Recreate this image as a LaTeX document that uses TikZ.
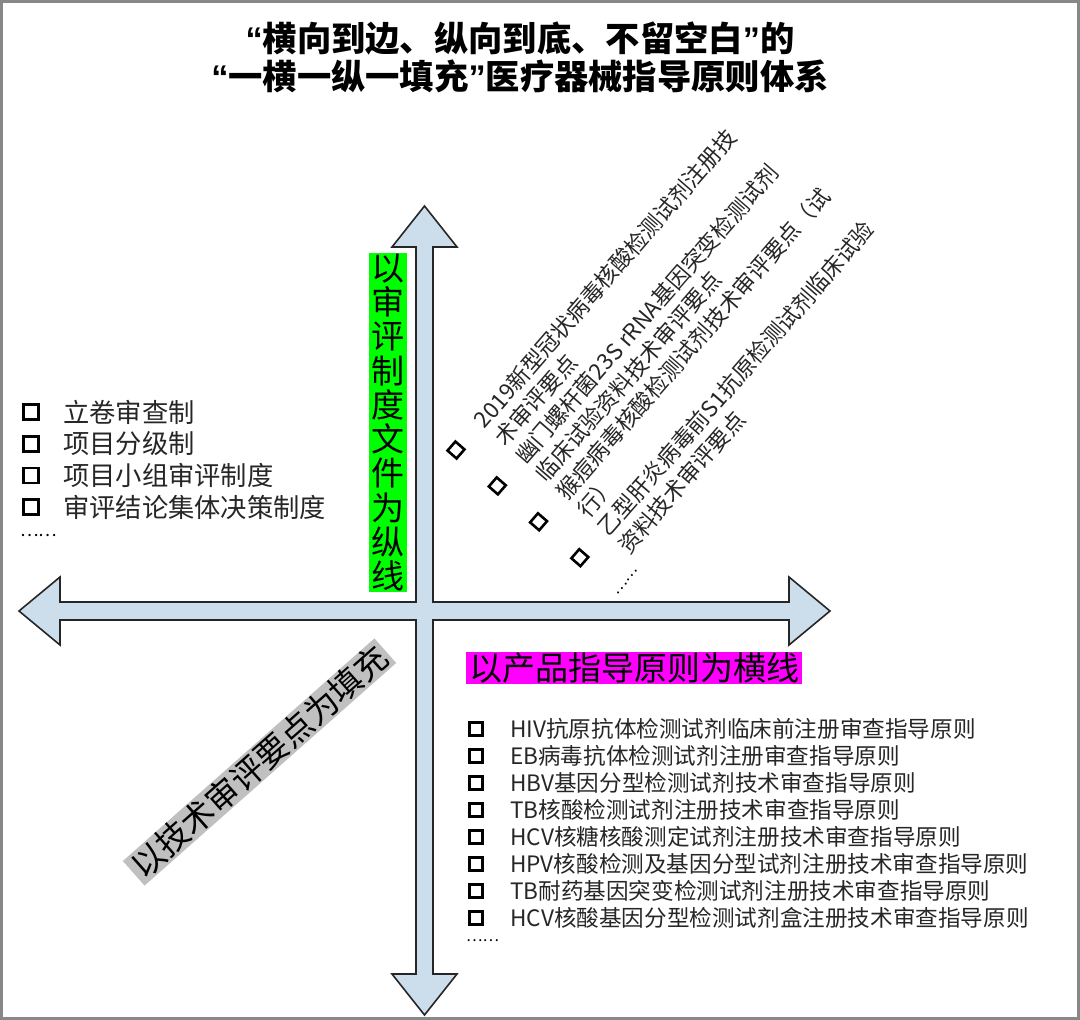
\documentclass[tikz,border=0pt]{standalone}
\usepackage{fontspec}
\usepackage{tikz}
\usetikzlibrary{shapes,backgrounds,positioning}
\newfontfamily\cjk{Noto Sans CJK SC}
\newfontfamily\latin{Liberation Sans}
\newcommand{\opq}{{\latin “}}
\newcommand{\clq}{{\latin ”}}
\definecolor{arrowblue}{RGB}{204,222,236}
\definecolor{framegray}{RGB}{136,136,136}
\definecolor{boxgreen}{RGB}{0,255,0}
\definecolor{boxmagenta}{RGB}{255,0,255}
\definecolor{boxsilver}{RGB}{192,192,192}

\begin{document}
\begin{tikzpicture}[x=1pt,y=-1pt,font=\cjk,
		crossarrow/.style={fill=arrowblue,draw=black!85,line width=1.6pt,line join=miter},
		sqbig/.style={draw,line width=2.8pt,minimum size=15pt,inner sep=0pt},
		sqsmall/.style={draw,line width=2.5pt,minimum size=13pt,inner sep=0pt},
		sqturn/.style={draw,line width=2.6pt,minimum size=12pt,inner sep=0pt},
		txtbig/.style={anchor=west,inner sep=0pt,text=black!85,font=\cjk\fontsize{26.3}{30}\selectfont},
		txtsmall/.style={anchor=west,inner sep=0pt,text=black!85,font=\cjk\fontsize{22.6}{27}\selectfont},
		txtturn/.style={anchor=west,inner sep=0pt,align=left,text=black!85,font=\cjk\fontsize{22.4}{27.4}\selectfont},
		tagbox/.style={inner xsep=3pt,inner ysep=1pt,font=\cjk\fontsize{33}{34.3}\selectfont}]
			\useasboundingbox (0,0) rectangle (1080,1020);
			% draw frame
			\draw[framegray,line width=3pt] (1.5,1.5) rectangle (1078.5,1018.5);
			
			% draw title
			\node[align=center,font=\cjk\bfseries\fontsize{34.3}{38}\selectfont] (title) at (520,57)
			{\opq 横向到边、纵向到底、不留空白\clq 的\\\opq 一横一纵一填充\clq 医疗器械指导原则体系};
			
			% draw cross arrows
			\filldraw[crossarrow] (424.5,206) -- (457,247) -- (433,247) -- (433,602) -- (789,602) -- (789,577)
			-- (830,611) -- (789,645) -- (789,620) -- (433,620) -- (433,974) -- (457,974) -- (424.5,1015)
			-- (392,974) -- (416,974) -- (416,620) -- (60,620) -- (60,645) -- (19,611) -- (60,577)
			-- (60,602) -- (416,602) -- (416,247) -- (392,247) -- cycle;
			
			% draw tags
			\node[tagbox,fill=boxgreen,align=center,inner xsep=2.5pt] (vtag) at (387.5,422.5)
			{以\\审\\评\\制\\度\\文\\件\\为\\纵\\线};
			\node[tagbox,fill=boxmagenta] (htag) at (634,668) {以产品指导原则为横线};
			\node[tagbox,fill=boxsilver,rotate=41.5] (ftag) at (259.5,762) {以技术审评要点为填充};
			
			% left list
			\foreach \txt [count=\i] in {立卷审查制,项目分级制,项目小组审评制度,审评结论集体决策制度}{
				\node[sqbig] (lb-\i) at (31,{412+31.7*(\i-1)}) {};
				\node[txtbig] (lt-\i) at (63,{412+31.7*(\i-1)}) {\txt};
			}
			\node[anchor=west,inner sep=0pt,font=\cjk\fontsize{17.5}{20}\selectfont] (ldots) at (20,536) {……};
			
			% right list
			\foreach \txt [count=\i] in {HIV抗原抗体检测试剂临床前注册审查指导原则,EB病毒抗体检测试剂注册审查指导原则,
				HBV基因分型检测试剂技术审查指导原则,TB核酸检测试剂注册技术审查指导原则,
				HCV核糖核酸测定试剂注册技术审查指导原则,HPV核酸检测及基因分型试剂注册技术审查指导原则,
				TB耐药基因突变检测试剂注册技术审查指导原则,HCV核酸基因分型检测试剂盒注册技术审查指导原则}{
				\node[sqsmall] (rb-\i) at (476,{729+27*(\i-1)}) {};
				\node[txtsmall] (rt-\i) at (510,{729+27*(\i-1)}) {\txt};
			}
			\node[anchor=west,inner sep=0pt,font=\cjk\fontsize{15.5}{18}\selectfont] (rdots) at (466,941) {……};
			
			% turned list
			\begin{scope}[shift={(456,450)},rotate=49,transform shape]
				\foreach \txt [count=\i] in {{2019新型冠状病毒核酸检测试剂注册技\\术审评要点},
					{幽门螺杆菌23S rRNA基因突变检测试剂\\临床试验资料技术审评要点},
					{猴痘病毒核酸检测试剂技术审评要点（试\\行）},
					{乙型肝炎病毒前S1抗原检测试剂临床试验\\资料技术审评要点}}{
					\node[sqturn] (tb-\i) at (0,{54.7*(\i-1)}) {};
					\node[txtturn] (tt-\i) at (34,{54.7*(\i-1)+13.7}) {\txt};
				}
				\node[anchor=west,inner sep=0pt,font=\cjk\fontsize{15.5}{18}\selectfont] (tdots) at (-4,216) {……};
			\end{scope}
		\end{tikzpicture}
\end{document}
